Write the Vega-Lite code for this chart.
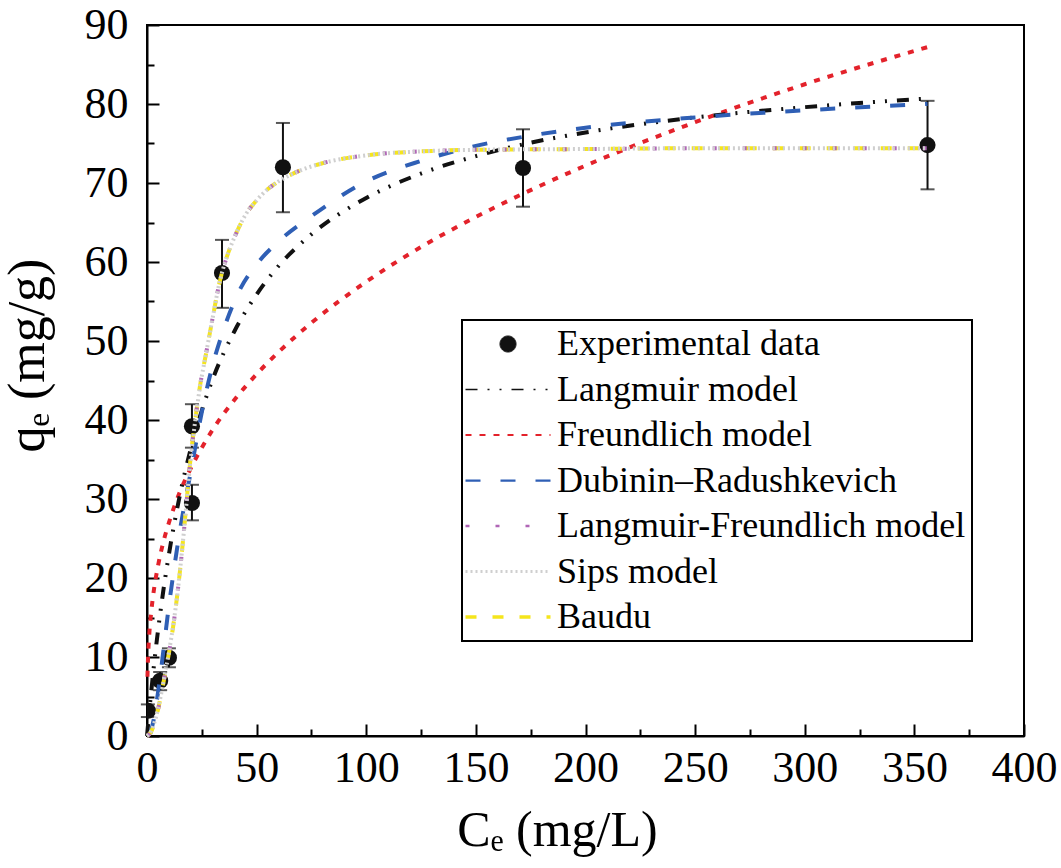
{
  "$schema": "https://vega.github.io/schema/vega-lite/v6.json",
  "autosize": {"type": "none"},
  "padding": {"left": 147, "top": 25, "right": 37, "bottom": 132},
  "width": 877,
  "height": 711,
  "background": "white",
  "config": {
    "view": {"stroke": "black", "strokeWidth": 2},
    "axis": {
      "grid": false,
      "domainColor": "black",
      "domainWidth": 2,
      "tickColor": "black",
      "tickWidth": 2,
      "labelFont": "Liberation Serif",
      "labelFontSize": 44,
      "labelColor": "black",
      "titleFont": "Liberation Serif",
      "titleFontWeight": "normal",
      "titleColor": "black",
      "labelFlush": false,
      "labelOverlap": false
    }
  },
  "datasets": {
    "exp": [
      {"series": "Experimental data", "x": 0.4, "y": 3.2, "lo": 2.4, "hi": 4.0},
      {"series": "Experimental data", "x": 6, "y": 7.0, "lo": 5.8, "hi": 8.1},
      {"series": "Experimental data", "x": 10, "y": 9.9, "lo": 8.7, "hi": 11.1},
      {"series": "Experimental data", "x": 20.5, "y": 29.5, "lo": 27.3, "hi": 31.8},
      {"series": "Experimental data", "x": 20.5, "y": 39.2, "lo": 36.5, "hi": 42.0},
      {"series": "Experimental data", "x": 34.2, "y": 58.6, "lo": 54.2, "hi": 62.8},
      {"series": "Experimental data", "x": 62, "y": 72.0, "lo": 66.3, "hi": 77.6},
      {"series": "Experimental data", "x": 171.5, "y": 71.9, "lo": 67.0, "hi": 76.8},
      {"series": "Experimental data", "x": 356, "y": 74.8, "lo": 69.2, "hi": 80.4}
    ],
    "curves": [
      {"series": "Freundlich model", "x": 0.2, "y": 7.5},
      {"series": "Freundlich model", "x": 0.5, "y": 10.1},
      {"series": "Freundlich model", "x": 1, "y": 12.7},
      {"series": "Freundlich model", "x": 2, "y": 15.9},
      {"series": "Freundlich model", "x": 3, "y": 18.2},
      {"series": "Freundlich model", "x": 5, "y": 21.5},
      {"series": "Freundlich model", "x": 7.5, "y": 24.6},
      {"series": "Freundlich model", "x": 10, "y": 27.0},
      {"series": "Freundlich model", "x": 15, "y": 30.9},
      {"series": "Freundlich model", "x": 20, "y": 33.9},
      {"series": "Freundlich model", "x": 25, "y": 36.5},
      {"series": "Freundlich model", "x": 30, "y": 38.8},
      {"series": "Freundlich model", "x": 40, "y": 42.6},
      {"series": "Freundlich model", "x": 50, "y": 45.8},
      {"series": "Freundlich model", "x": 60, "y": 48.6},
      {"series": "Freundlich model", "x": 75, "y": 52.3},
      {"series": "Freundlich model", "x": 100, "y": 57.5},
      {"series": "Freundlich model", "x": 125, "y": 61.9},
      {"series": "Freundlich model", "x": 150, "y": 65.7},
      {"series": "Freundlich model", "x": 175, "y": 69.1},
      {"series": "Freundlich model", "x": 200, "y": 72.2},
      {"series": "Freundlich model", "x": 250, "y": 77.7},
      {"series": "Freundlich model", "x": 300, "y": 82.5},
      {"series": "Freundlich model", "x": 356, "y": 87.2},

      {"series": "Langmuir model", "x": 0, "y": 0},
      {"series": "Langmuir model", "x": 0.5, "y": 1.5},
      {"series": "Langmuir model", "x": 1, "y": 3.0},
      {"series": "Langmuir model", "x": 2, "y": 5.8},
      {"series": "Langmuir model", "x": 3, "y": 8.5},
      {"series": "Langmuir model", "x": 5, "y": 13.3},
      {"series": "Langmuir model", "x": 7.5, "y": 18.5},
      {"series": "Langmuir model", "x": 10, "y": 23.0},
      {"series": "Langmuir model", "x": 15, "y": 30.5},
      {"series": "Langmuir model", "x": 20, "y": 36.4},
      {"series": "Langmuir model", "x": 25, "y": 41.2},
      {"series": "Langmuir model", "x": 30, "y": 45.2},
      {"series": "Langmuir model", "x": 40, "y": 51.3},
      {"series": "Langmuir model", "x": 50, "y": 55.9},
      {"series": "Langmuir model", "x": 60, "y": 59.5},
      {"series": "Langmuir model", "x": 75, "y": 63.5},
      {"series": "Langmuir model", "x": 100, "y": 68.1},
      {"series": "Langmuir model", "x": 125, "y": 71.2},
      {"series": "Langmuir model", "x": 150, "y": 73.4},
      {"series": "Langmuir model", "x": 175, "y": 75.1},
      {"series": "Langmuir model", "x": 200, "y": 76.4},
      {"series": "Langmuir model", "x": 250, "y": 78.3},
      {"series": "Langmuir model", "x": 300, "y": 79.6},
      {"series": "Langmuir model", "x": 356, "y": 80.7},

      {"series": "Dubinin–Radushkevich", "x": 1.5, "y": 0.3},
      {"series": "Dubinin–Radushkevich", "x": 3, "y": 2.0},
      {"series": "Dubinin–Radushkevich", "x": 4.5, "y": 4.5},
      {"series": "Dubinin–Radushkevich", "x": 6, "y": 7.5},
      {"series": "Dubinin–Radushkevich", "x": 8, "y": 12.0},
      {"series": "Dubinin–Radushkevich", "x": 10, "y": 16.5},
      {"series": "Dubinin–Radushkevich", "x": 12, "y": 20.5},
      {"series": "Dubinin–Radushkevich", "x": 15, "y": 26.0},
      {"series": "Dubinin–Radushkevich", "x": 20, "y": 33.5},
      {"series": "Dubinin–Radushkevich", "x": 25, "y": 41.0},
      {"series": "Dubinin–Radushkevich", "x": 30, "y": 47.0},
      {"series": "Dubinin–Radushkevich", "x": 35, "y": 51.5},
      {"series": "Dubinin–Radushkevich", "x": 42, "y": 56.3},
      {"series": "Dubinin–Radushkevich", "x": 50, "y": 59.7},
      {"series": "Dubinin–Radushkevich", "x": 60, "y": 62.6},
      {"series": "Dubinin–Radushkevich", "x": 75, "y": 65.8},
      {"series": "Dubinin–Radushkevich", "x": 100, "y": 70.2},
      {"series": "Dubinin–Radushkevich", "x": 125, "y": 72.8},
      {"series": "Dubinin–Radushkevich", "x": 150, "y": 74.7},
      {"series": "Dubinin–Radushkevich", "x": 175, "y": 76.0},
      {"series": "Dubinin–Radushkevich", "x": 200, "y": 77.0},
      {"series": "Dubinin–Radushkevich", "x": 250, "y": 78.3},
      {"series": "Dubinin–Radushkevich", "x": 300, "y": 79.2},
      {"series": "Dubinin–Radushkevich", "x": 356, "y": 80.0},

      {"series": "Baudu", "x": 0, "y": 0},
      {"series": "Baudu", "x": 2, "y": 0.6},
      {"series": "Baudu", "x": 4, "y": 2.2},
      {"series": "Baudu", "x": 6, "y": 4.6},
      {"series": "Baudu", "x": 8, "y": 7.5},
      {"series": "Baudu", "x": 10, "y": 10.5},
      {"series": "Baudu", "x": 12, "y": 14.0},
      {"series": "Baudu", "x": 14, "y": 18.3},
      {"series": "Baudu", "x": 16, "y": 23.5},
      {"series": "Baudu", "x": 18, "y": 29.5},
      {"series": "Baudu", "x": 20, "y": 35.5},
      {"series": "Baudu", "x": 22, "y": 40.0},
      {"series": "Baudu", "x": 24, "y": 44.0},
      {"series": "Baudu", "x": 27, "y": 48.5},
      {"series": "Baudu", "x": 30, "y": 53.0},
      {"series": "Baudu", "x": 33, "y": 57.3},
      {"series": "Baudu", "x": 36, "y": 60.3},
      {"series": "Baudu", "x": 40, "y": 63.2},
      {"series": "Baudu", "x": 45, "y": 66.0},
      {"series": "Baudu", "x": 50, "y": 67.8},
      {"series": "Baudu", "x": 55, "y": 69.2},
      {"series": "Baudu", "x": 60, "y": 70.2},
      {"series": "Baudu", "x": 70, "y": 71.6},
      {"series": "Baudu", "x": 80, "y": 72.5},
      {"series": "Baudu", "x": 100, "y": 73.5},
      {"series": "Baudu", "x": 125, "y": 74.0},
      {"series": "Baudu", "x": 150, "y": 74.2},
      {"series": "Baudu", "x": 200, "y": 74.3},
      {"series": "Baudu", "x": 250, "y": 74.4},
      {"series": "Baudu", "x": 300, "y": 74.4},
      {"series": "Baudu", "x": 356, "y": 74.4},

      {"series": "Langmuir-Freundlich model", "x": 0, "y": 0},
      {"series": "Langmuir-Freundlich model", "x": 2, "y": 0.6},
      {"series": "Langmuir-Freundlich model", "x": 4, "y": 2.2},
      {"series": "Langmuir-Freundlich model", "x": 6, "y": 4.6},
      {"series": "Langmuir-Freundlich model", "x": 8, "y": 7.5},
      {"series": "Langmuir-Freundlich model", "x": 10, "y": 10.5},
      {"series": "Langmuir-Freundlich model", "x": 12, "y": 14.0},
      {"series": "Langmuir-Freundlich model", "x": 14, "y": 18.3},
      {"series": "Langmuir-Freundlich model", "x": 16, "y": 23.5},
      {"series": "Langmuir-Freundlich model", "x": 18, "y": 29.5},
      {"series": "Langmuir-Freundlich model", "x": 20, "y": 35.5},
      {"series": "Langmuir-Freundlich model", "x": 22, "y": 40.0},
      {"series": "Langmuir-Freundlich model", "x": 24, "y": 44.0},
      {"series": "Langmuir-Freundlich model", "x": 27, "y": 48.5},
      {"series": "Langmuir-Freundlich model", "x": 30, "y": 53.0},
      {"series": "Langmuir-Freundlich model", "x": 33, "y": 57.3},
      {"series": "Langmuir-Freundlich model", "x": 36, "y": 60.3},
      {"series": "Langmuir-Freundlich model", "x": 40, "y": 63.2},
      {"series": "Langmuir-Freundlich model", "x": 45, "y": 66.0},
      {"series": "Langmuir-Freundlich model", "x": 50, "y": 67.8},
      {"series": "Langmuir-Freundlich model", "x": 55, "y": 69.2},
      {"series": "Langmuir-Freundlich model", "x": 60, "y": 70.2},
      {"series": "Langmuir-Freundlich model", "x": 70, "y": 71.6},
      {"series": "Langmuir-Freundlich model", "x": 80, "y": 72.5},
      {"series": "Langmuir-Freundlich model", "x": 100, "y": 73.5},
      {"series": "Langmuir-Freundlich model", "x": 125, "y": 74.0},
      {"series": "Langmuir-Freundlich model", "x": 150, "y": 74.2},
      {"series": "Langmuir-Freundlich model", "x": 200, "y": 74.3},
      {"series": "Langmuir-Freundlich model", "x": 250, "y": 74.4},
      {"series": "Langmuir-Freundlich model", "x": 300, "y": 74.4},
      {"series": "Langmuir-Freundlich model", "x": 356, "y": 74.4},

      {"series": "Sips model", "x": 0, "y": 0},
      {"series": "Sips model", "x": 2, "y": 0.7},
      {"series": "Sips model", "x": 4, "y": 2.3},
      {"series": "Sips model", "x": 6, "y": 4.7},
      {"series": "Sips model", "x": 8, "y": 7.6},
      {"series": "Sips model", "x": 10, "y": 10.6},
      {"series": "Sips model", "x": 12, "y": 14.1},
      {"series": "Sips model", "x": 14, "y": 18.3},
      {"series": "Sips model", "x": 16, "y": 23.5},
      {"series": "Sips model", "x": 18, "y": 29.4},
      {"series": "Sips model", "x": 20, "y": 35.3},
      {"series": "Sips model", "x": 22, "y": 39.9},
      {"series": "Sips model", "x": 24, "y": 43.9},
      {"series": "Sips model", "x": 27, "y": 48.5},
      {"series": "Sips model", "x": 30, "y": 53.0},
      {"series": "Sips model", "x": 33, "y": 57.3},
      {"series": "Sips model", "x": 36, "y": 60.3},
      {"series": "Sips model", "x": 40, "y": 63.2},
      {"series": "Sips model", "x": 45, "y": 66.0},
      {"series": "Sips model", "x": 50, "y": 67.8},
      {"series": "Sips model", "x": 55, "y": 69.2},
      {"series": "Sips model", "x": 60, "y": 70.2},
      {"series": "Sips model", "x": 70, "y": 71.6},
      {"series": "Sips model", "x": 80, "y": 72.5},
      {"series": "Sips model", "x": 100, "y": 73.5},
      {"series": "Sips model", "x": 125, "y": 74.0},
      {"series": "Sips model", "x": 150, "y": 74.2},
      {"series": "Sips model", "x": 200, "y": 74.3},
      {"series": "Sips model", "x": 250, "y": 74.4},
      {"series": "Sips model", "x": 300, "y": 74.4},
      {"series": "Sips model", "x": 356, "y": 74.4}
    ]
  },
  "encoding": {
    "x": {
      "type": "quantitative",
      "scale": {"domain": [0, 400], "nice": false},
      "axis": {
        "title": "Cₑ (mg/L)",
        "titleFontSize": 50,
        "titlePadding": 10,
        "titleX": 410,
        "values": [0, 25, 50, 75, 100, 125, 150, 175, 200, 225, 250, 275, 300, 325, 350, 375, 400],
        "labelExpr": "datum.value % 50 === 0 ? datum.label : ''",
        "tickSize": {"condition": {"test": "datum.value % 50 === 0", "value": -12}, "value": -7},
        "labelPadding": 22
      }
    },
    "y": {
      "type": "quantitative",
      "scale": {"domain": [0, 90], "nice": false},
      "axis": {
        "title": "qₑ (mg/g)",
        "titleFontSize": 52,
        "titlePadding": 30,
        "titleY": 330,
        "values": [0, 5, 10, 15, 20, 25, 30, 35, 40, 45, 50, 55, 60, 65, 70, 75, 80, 85, 90],
        "labelExpr": "datum.value % 10 === 0 ? datum.label : ''",
        "tickSize": {"condition": {"test": "datum.value % 10 === 0", "value": -12}, "value": -7},
        "labelPadding": 31
      }
    }
  },
  "layer": [
    {
      "data": {"name": "exp"},
      "mark": {"type": "errorbar", "ticks": {"size": 14}, "thickness": 2, "color": "#111111"},
      "encoding": {
        "x": {"field": "x", "type": "quantitative"},
        "y": {"field": "lo", "type": "quantitative"},
        "y2": {"field": "hi"}
      }
    },
    {
      "data": {"name": "exp"},
      "mark": {"type": "point", "filled": true, "size": 260, "opacity": 1, "clip": true},
      "encoding": {
        "x": {"field": "x", "type": "quantitative"},
        "y": {"field": "y", "type": "quantitative"},
        "color": {"field": "series", "type": "nominal"}
      }
    },
    {
      "data": {"name": "curves"},
      "mark": {"type": "line", "strokeWidth": 4, "interpolate": "monotone"},
      "encoding": {
        "x": {"field": "x", "type": "quantitative"},
        "y": {"field": "y", "type": "quantitative"},
        "color": {
          "field": "series",
          "type": "nominal",
          "scale": {
            "domain": ["Experimental data", "Langmuir model", "Freundlich model", "Dubinin–Radushkevich", "Langmuir-Freundlich model", "Sips model", "Baudu"],
            "range": ["#111111", "#111111", "#e3222b", "#2f5fb5", "#b066b6", "#cfcfcf", "#f5e51c"]
          },
          "legend": {
            "title": null,
            "orient": "none",
            "legendX": 315,
            "legendY": 295,
            "padding": 6,
            "strokeColor": "black",
            "labelFont": "Liberation Serif",
            "labelFontSize": 36,
            "labelColor": "black",
            "labelLimit": 0,
            "labelOffset": 31,
            "rowPadding": 9.5,
            "symbolType": "stroke",
            "symbolSize": 289,
            "symbolOffset": 22,
            "symbolStrokeWidth": 3.5,
            "encode": {
              "legend": {"update": {"strokeWidth": {"value": 2}}},
              "symbols": {
                "update": {
                  "shape": {"signal": "datum.value === 'Experimental data' ? 'circle' : 'M-5,0H5'"},
                  "size": {"signal": "datum.value === 'Experimental data' ? 260 : 289"},
                  "fill": {"signal": "datum.value === 'Experimental data' ? '#111111' : 'transparent'"},
                  "strokeWidth": {"signal": "datum.value === 'Experimental data' ? 0 : (datum.value === 'Sips model' ? 1.5 : 3.5)"},
                  "strokeDash": {"signal": "datum.value === 'Langmuir model' ? [12,10,2,10,2,10] : datum.value === 'Freundlich model' ? [6,8] : datum.value === 'Dubinin–Radushkevich' ? [15,20] : datum.value === 'Langmuir-Freundlich model' ? [4,26] : datum.value === 'Sips model' ? [2,3] : datum.value === 'Baudu' ? [11,16] : [1,0]"},
                  "opacity": {"value": 1}
                }
              }
            }
          }
        },
        "strokeDash": {
          "field": "series",
          "type": "nominal",
          "legend": null,
          "scale": {
            "domain": ["Experimental data", "Langmuir model", "Freundlich model", "Dubinin–Radushkevich", "Langmuir-Freundlich model", "Sips model", "Baudu"],
            "range": [[1, 0], [12, 10, 2, 10, 2, 10], [6, 8], [15, 20], [4, 26], [2, 3], [11, 16]]
          }
        },
        "strokeWidth": {
          "field": "series",
          "type": "nominal",
          "legend": null,
          "scale": {
            "domain": ["Experimental data", "Langmuir model", "Freundlich model", "Dubinin–Radushkevich", "Langmuir-Freundlich model", "Sips model", "Baudu"],
            "range": [1, 3.5, 4, 4, 4.5, 1.5, 4]
          }
        }
      }
    }
  ]
}
